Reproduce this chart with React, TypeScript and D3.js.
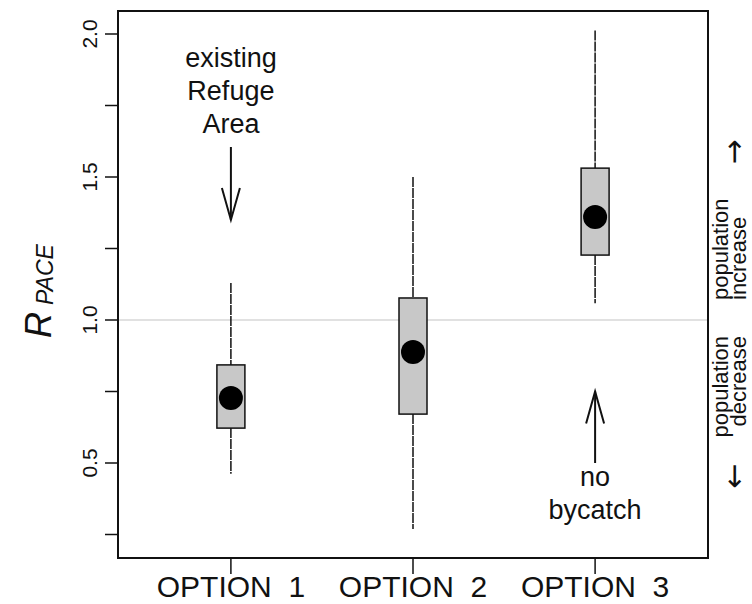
import React from "react";
import * as d3 from "d3";

const categories = ["OPTION  1", "OPTION  2", "OPTION  3"];
const whiskerLow = [0.462, 0.269, 1.059];
const boxLow = [0.622, 0.671, 1.227];
const boxHigh = [0.843, 1.077, 1.531];
const whiskerHigh = [1.129, 1.5, 2.012];
const centerValue = [0.727, 0.888, 1.36];
const yTicks = [0.25, 0.5, 0.75, 1.0, 1.25, 1.5, 1.75, 2.0];
const yTickLabels = ["0.5", "1.0", "1.5", "2.0"];

const W = 752;
const H = 604;
const left = 118;
const right = 708;
const top = 11;
const bottom = 558;

export default function App() {
  const x = d3.scaleLinear().domain([0.38, 3.62]).range([left, right]);
  const y = d3.scaleLinear().domain([1.0, 2.0]).range([320, 34]);
  const font = "'Liberation Sans', Arial, Helvetica, sans-serif";
  const boxHalf = 14;

  const arrowHead = (xx: number, yTip: number, dir: number) => {
    const len = 32;
    const half = 9;
    return `M${xx - half},${yTip - dir * len} L${xx},${yTip} L${xx + half},${yTip - dir * len}`;
  };

  const a1x = x(1), a1from = y(1.605), a1to = y(1.35);
  const a2x = x(3), a2from = y(0.5), a2to = y(0.75);

  return (
    <svg width={W} height={H} style={{ position: "absolute", left: 0, top: 0, background: "#fff" }} fontFamily={font}>
      {/* reference line */}
      <line x1={left} x2={right} y1={y(1.0)} y2={y(1.0)} stroke="#c4c4c4" strokeWidth={1.2} />
      {/* boxes */}
      {categories.map((c, i) => {
        const cx = x(i + 1);
        return (
          <g key={c}>
            <line x1={cx} x2={cx} y1={y(whiskerHigh[i])} y2={y(boxHigh[i])} stroke="#111" strokeWidth={1.5} strokeDasharray="10,1" />
            <line x1={cx} x2={cx} y1={y(boxLow[i])} y2={y(whiskerLow[i])} stroke="#111" strokeWidth={1.5} strokeDasharray="10,1" />
            <rect x={cx - boxHalf} y={y(boxHigh[i])} width={boxHalf * 2} height={y(boxLow[i]) - y(boxHigh[i])} fill="#c8c8c8" stroke="#111" strokeWidth={1.5} />
            <circle cx={cx} cy={y(centerValue[i])} r={12} fill="#000" />
          </g>
        );
      })}
      {/* frame */}
      <rect x={left} y={top} width={right - left} height={bottom - top} fill="none" stroke="#111" strokeWidth={2} />
      {/* y ticks */}
      {yTicks.map((t) => (
        <line key={t} x1={left - 13} x2={left} y1={y(t)} y2={y(t)} stroke="#111" strokeWidth={1.5} />
      ))}
      {yTickLabels.map((l) => (
        <text key={l} transform={`translate(97,${y(+l)}) rotate(-90)`} textAnchor="middle" fontSize={21} fill="#111">
          {l}
        </text>
      ))}
      {/* x ticks */}
      {categories.map((c, i) => (
        <g key={c}>
          <line x1={x(i + 1)} x2={x(i + 1)} y1={bottom} y2={bottom + 16} stroke="#111" strokeWidth={1.5} />
          <text x={x(i + 1)} y={597} textAnchor="middle" fontSize={30} fill="#111" style={{ whiteSpace: "pre" }}>
            {c}
          </text>
        </g>
      ))}
      {/* y title */}
      <text transform={`translate(51,338) rotate(-90)`} fontSize={36} fontStyle="italic" fill="#111">
        R
        <tspan fontSize={23} dx={7} dy={2}>PACE</tspan>
      </text>
      {/* annotations */}
      <g fontSize={27} textAnchor="middle" fill="#111">
        <text x={a1x} y={67}>existing</text>
        <text x={a1x} y={100}>Refuge</text>
        <text x={a1x} y={133}>Area</text>
        <text x={a2x} y={486}>no</text>
        <text x={a2x} y={519}>bycatch</text>
      </g>
      <line x1={a1x} x2={a1x} y1={a1from} y2={a1to} stroke="#111" strokeWidth={2} />
      <path d={arrowHead(a1x, a1to, 1)} fill="none" stroke="#111" strokeWidth={2} />
      <line x1={a2x} x2={a2x} y1={a2from} y2={a2to} stroke="#111" strokeWidth={2} />
      <path d={arrowHead(a2x, a2to, -1)} fill="none" stroke="#111" strokeWidth={2} />
      {/* right margin labels */}
      <g fontSize={22} fill="#111">
        <text transform={`translate(728,300) rotate(-90)`}>population</text>
        <text transform={`translate(746,300) rotate(-90)`}>increase</text>
        <text transform={`translate(728,336) rotate(-90)`} textAnchor="end">population</text>
        <text transform={`translate(746,336) rotate(-90)`} textAnchor="end">decrease</text>
      </g>
      <g fontSize={30} fill="#111" fontFamily="'DejaVu Sans', sans-serif">
        <text transform={`translate(744,152) rotate(-90)`} textAnchor="middle">→</text>
        <text transform={`translate(744,476) rotate(-90)`} textAnchor="middle">←</text>
      </g>
    </svg>
  );
}
